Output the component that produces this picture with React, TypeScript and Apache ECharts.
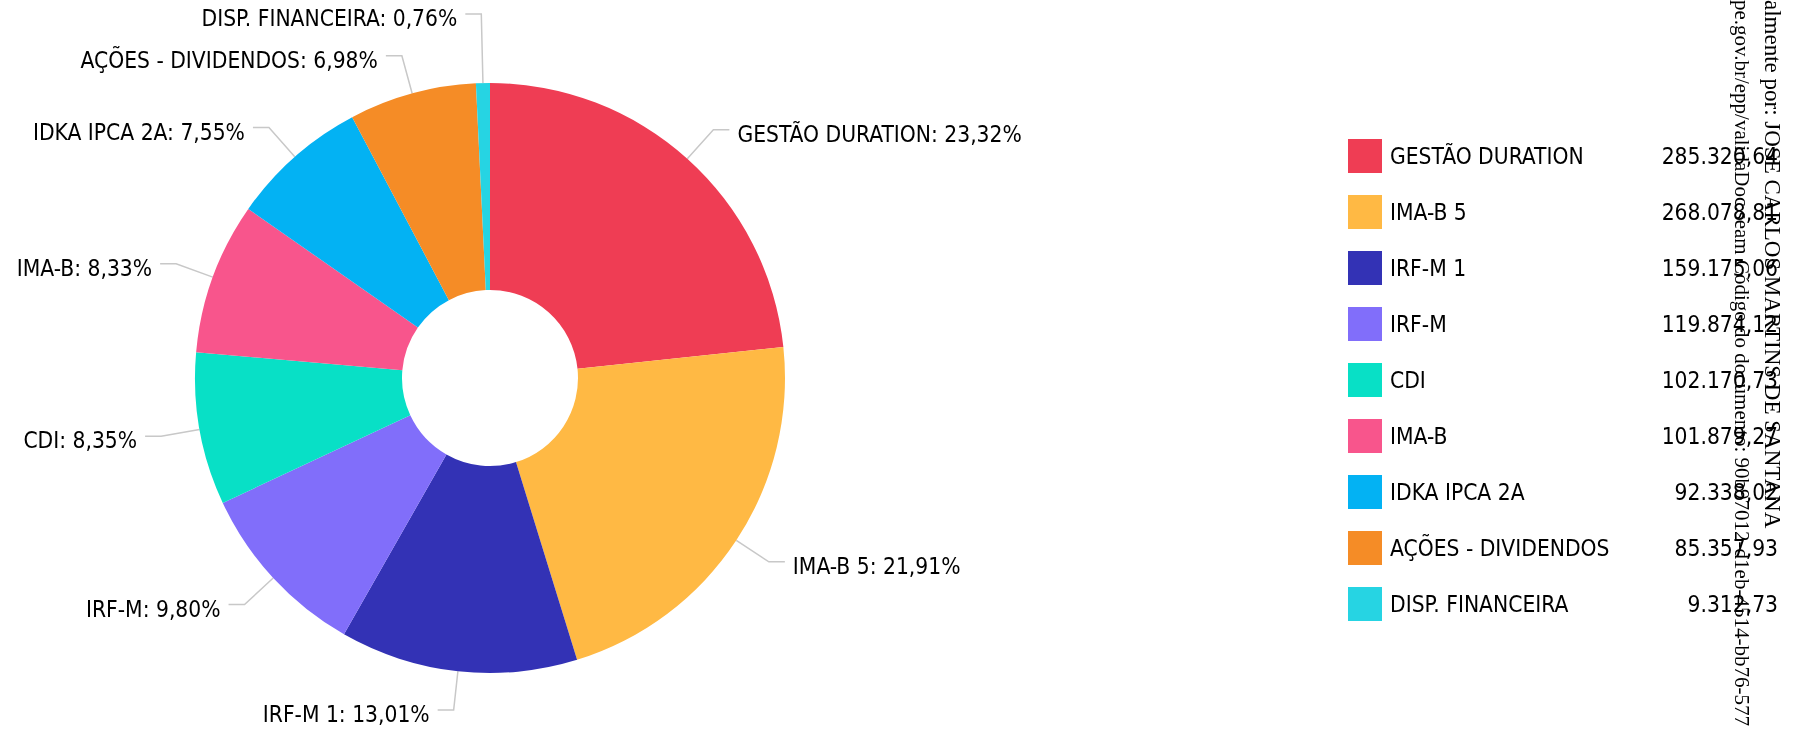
import React, { useEffect, useRef } from "react";
import * as echarts from "echarts";

const categories = [
  "GESTÃO DURATION",
  "IMA-B 5",
  "IRF-M 1",
  "IRF-M",
  "CDI",
  "IMA-B",
  "IDKA IPCA 2A",
  "AÇÕES - DIVIDENDOS",
  "DISP. FINANCEIRA",
];
const values = [285320.64, 268078.81, 159175.06, 119874.12, 102170.73, 101879.27, 92338.02, 85357.93, 9312.73];
const colors = ["#EF3D54", "#FFB944", "#3332B5", "#816EFA", "#08E0C6", "#F8558C", "#03B2F3", "#F58C26", "#26D4E3"];
const watermarkLines = [
  "almente por: JOSE CARLOS MARTINS DE SANTANA",
  "pe.gov.br/epp/validaDoc.seam Código do documento: 90b97012-d1eb-4514-bb76-577",
];

const FONT = "'DejaVu Sans Condensed', 'DejaVu Sans', sans-serif";
const FS = 22.6;

function fmtBR(v: number): string {
  const [i, d] = v.toFixed(2).split(".");
  return i.replace(/\B(?=(\d{3})+(?!\d))/g, ".") + "," + d;
}

export default function App() {
  const ref = useRef<HTMLDivElement>(null);
  useEffect(() => {
    if (!ref.current) return;
    const chart = echarts.init(ref.current, null, { renderer: "svg" });
    const valueByName: Record<string, number> = {};
    categories.forEach((c, i) => (valueByName[c] = values[i]));
    const total = values.reduce((a, b) => a + b, 0);
    chart.setOption({
      animation: false,
      color: colors,
      legend: {
        orient: "vertical",
        left: 1348,
        top: 139,
        padding: 0,
        icon: "rect",
        itemWidth: 34,
        itemHeight: 34,
        itemGap: 22,
        selectedMode: false,
        data: categories,
        formatter: (name: string) => `{n|${name}}{v|${fmtBR(valueByName[name])}}`,
        textStyle: {
          fontFamily: FONT,
          fontSize: FS,
          color: "#000",
          padding: [0, 0, 0, 3],
          rich: {
            n: { width: 240, fontFamily: FONT, fontSize: FS, color: "#000" },
            v: { width: 148, align: "right", fontFamily: FONT, fontSize: FS, color: "#000" },
          },
        },
      },
      graphic: [
        {
          type: "text",
          x: 1772,
          y: 0,
          rotation: -Math.PI / 2,
          silent: true,
          style: {
            text: watermarkLines[0],
            font: "23px 'Liberation Serif', serif",
            fill: "#000",
            textAlign: "left",
            textVerticalAlign: "middle",
          },
        },
        {
          type: "text",
          x: 1742,
          y: 0,
          rotation: -Math.PI / 2,
          silent: true,
          style: {
            text: watermarkLines[1],
            font: "21px 'Liberation Serif', serif",
            fill: "#000",
            textAlign: "left",
            textVerticalAlign: "middle",
          },
        },
      ],
      series: [
        {
          type: "pie",
          center: [490, 378],
          radius: [88, 295],
          startAngle: 90,
          clockwise: true,
          avoidLabelOverlap: true,
          data: categories.map((c, i) =>
            i === categories.length - 1
              ? { name: c, value: values[i], labelLine: { length: 69 } }
              : { name: c, value: values[i] }
          ),
          label: {
            show: true,
            position: "outside",
            distanceToLabelLine: 8,
            fontFamily: FONT,
            fontSize: FS,
            color: "#000",
            formatter: (p: any) =>
              `{t|${p.name}: ${((p.value / total) * 100).toFixed(2).replace(".", ",")}%}`,
            rich: {
              t: { fontFamily: FONT, fontSize: FS, color: "#000", padding: [8, 0, 0, 0] },
            },
          },
          labelLine: {
            show: true,
            length: 39,
            length2: 16,
            lineStyle: { color: "#c8c8c8", width: 1.5 },
          },
          emphasis: { disabled: true },
        },
      ],
    });
    return () => chart.dispose();
  }, []);
  return (
    <div
      ref={ref}
      style={{ position: "fixed", left: 0, top: 0, width: 1804, height: 732 }}
    />
  );
}
